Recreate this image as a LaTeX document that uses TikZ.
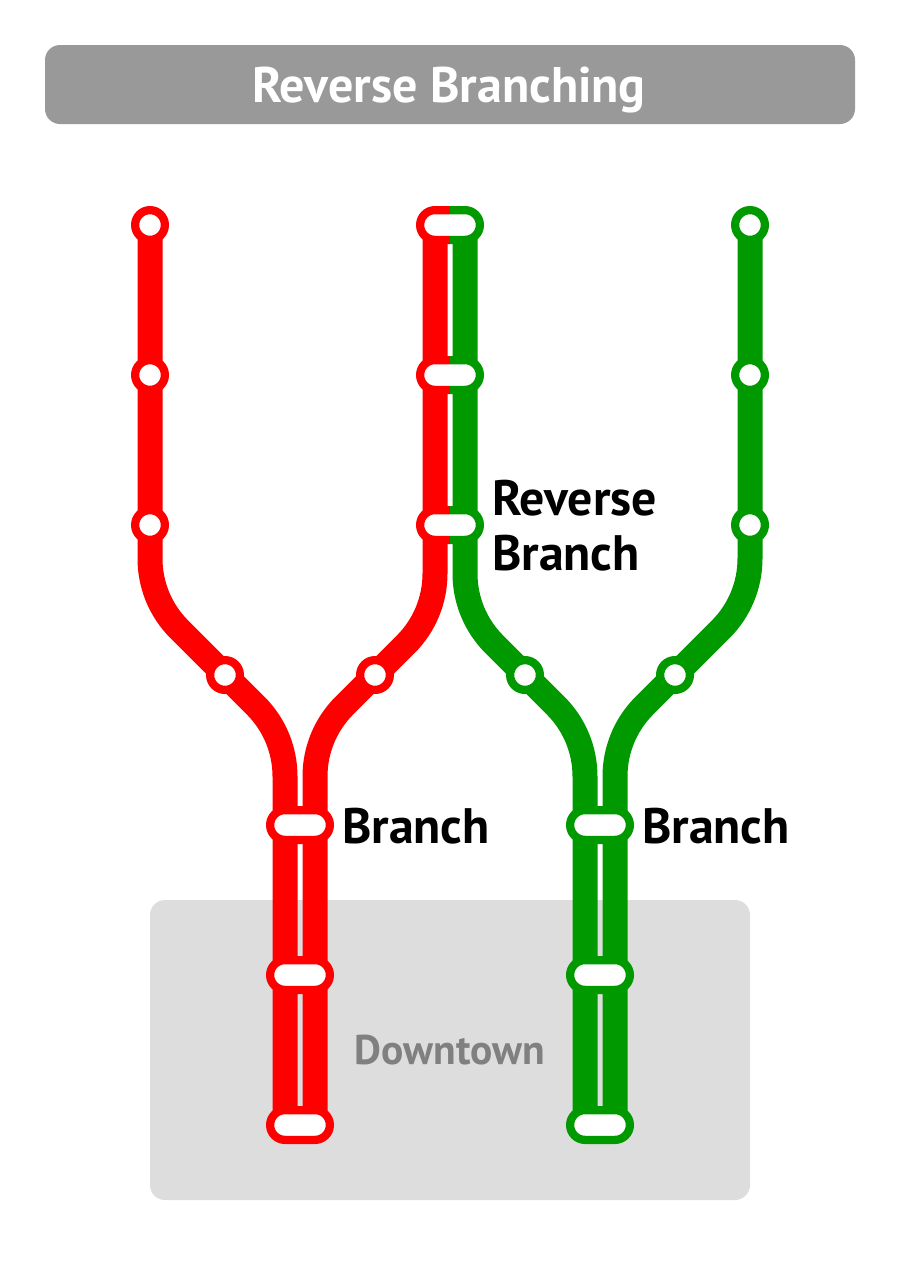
\documentclass[tikz,border=0pt]{standalone}
\usepackage{fontspec}
\setmainfont{PT Sans}
\usetikzlibrary{shapes.misc,backgrounds}
\definecolor{redline}{HTML}{FF0000}
\definecolor{greenline}{HTML}{009900}
\definecolor{titlegray}{HTML}{999999}
\definecolor{zonegray}{HTML}{DDDDDD}
\definecolor{zonetext}{HTML}{808080}
\pgfdeclarelayer{back}
\pgfdeclarelayer{lines}
\pgfsetlayers{back,lines,main}
\tikzset{
  track/.style={line width=25pt},
  stopdot/.style={circle,draw=#1,fill=white,line width=8.25pt,minimum size=29.75pt,inner sep=0pt,outer sep=0pt},
  stoppill/.style={rounded rectangle,draw=#1,fill=white,line width=8.25pt,minimum height=29.75pt,minimum width=59.75pt,inner sep=0pt,outer sep=0pt},
  biglabel/.style={font=\fontsize{49.8}{55}\selectfont\bfseries,text=black,anchor=base west,inner sep=0pt,align=left}
}
\begin{document}
\begin{tikzpicture}[x=1pt,y=-1pt]
\useasboundingbox (0,0) rectangle (900,1275);
% stations
\foreach \n/\x/\y in {a1/150/225,a2/150/375,a3/150/525,a4/225/675,b4/375/675}
  \node[stopdot=redline] (\n) at (\x,\y) {};
\foreach \n/\x/\y in {c4/525/675,d4/675/675,d1/750/225,d2/750/375,d3/750/525}
  \node[stopdot=greenline] (\n) at (\x,\y) {};
\foreach \n/\y in {r1/825,r2/975,r3/1125}
  \node[stoppill=redline] (\n) at (300,\y) {};
\foreach \n/\y in {g1/825,g2/975,g3/1125}
  \node[stoppill=greenline] (\n) at (600,\y) {};
\foreach \n/\y in {s1/225,s2/375,s3/525}{
  \begin{scope}
    \clip (400,\y-30) rectangle (450,\y+30);
    \node[stoppill=redline] (\n r) at (450,\y) {};
  \end{scope}
  \begin{scope}
    \clip (450,\y-30) rectangle (500,\y+30);
    \node[stoppill=greenline] (\n g) at (450,\y) {};
  \end{scope}
}
% lines
\begin{pgfonlayer}{lines}
\draw[track,redline] (a1.center) -- (a3.center) -- (150,558.58)
  .. controls (150,585.1) and (160.5,610.5) .. (179.29,629.29)
  -- (a4.center) -- (255.71,705.71)
  .. controls (274.5,724.5) and (285,749.9) .. (285,776.42) -- (285,1125);
\draw[track,redline] (435,225) -- (435,573.58)
  .. controls (435,600.1) and (424.5,625.5) .. (405.71,644.29)
  -- (b4.center) -- (344.29,705.71)
  .. controls (325.5,724.5) and (315,749.9) .. (315,776.42) -- (315,1125);
\draw[track,greenline] (465,225) -- (465,573.58)
  .. controls (465,600.1) and (475.5,625.5) .. (494.29,644.29)
  -- (c4.center) -- (555.71,705.71)
  .. controls (574.5,724.5) and (585,749.9) .. (585,776.42) -- (585,1125);
\draw[track,greenline] (d1.center) -- (d3.center) -- (750,558.58)
  .. controls (750,585.1) and (739.5,610.5) .. (720.71,629.29)
  -- (d4.center) -- (644.29,705.71)
  .. controls (625.5,724.5) and (615,749.9) .. (615,776.42) -- (615,1125);
\end{pgfonlayer}
\begin{pgfonlayer}{back}
\node[fill=titlegray,rounded corners=15pt,minimum width=810pt,minimum height=79pt,inner sep=0pt,outer sep=0pt] (titlebar) at (450,84.5) {};
\node[fill=zonegray,rounded corners=15pt,minimum width=600pt,minimum height=300pt,inner sep=0pt,outer sep=0pt] (downtownbox) at (450,1050) {};
\end{pgfonlayer}
% labels
\node[font=\fontsize{50}{55}\selectfont\bfseries,text=white,anchor=base,inner sep=0pt] (title) at (449,102) {Reverse Branching};
\node[font=\fontsize{41.5}{48}\selectfont\bfseries,text=zonetext,anchor=base,inner sep=0pt] (downtown) at (450,1064.5) {Downtown};
\node[biglabel] (rb) at (492,570) {Reverse\\Branch};
\node[biglabel] (bl) at (342,843) {Branch};
\node[biglabel] (br) at (642,843) {Branch};
\end{tikzpicture}
\end{document}
